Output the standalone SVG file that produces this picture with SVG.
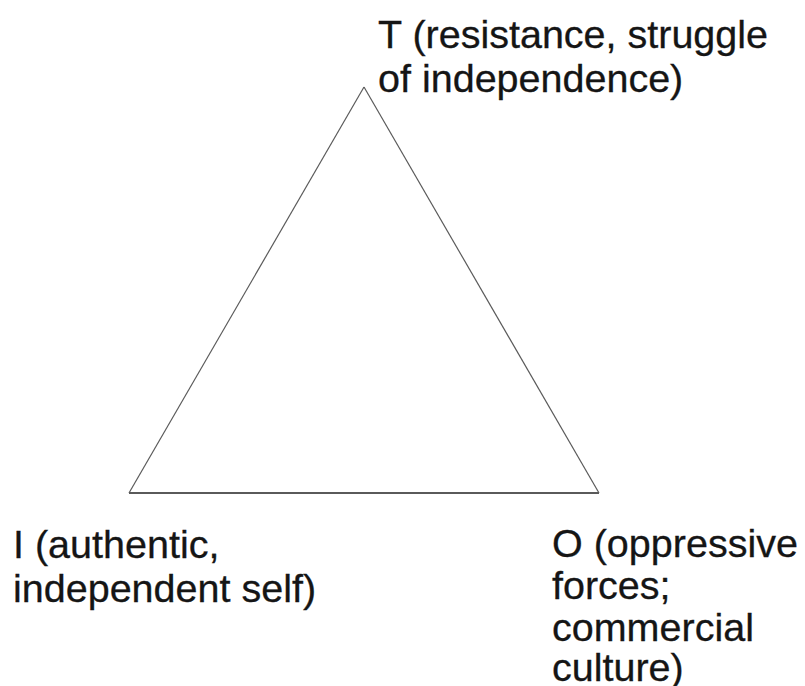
<svg xmlns="http://www.w3.org/2000/svg" width="805" height="686" viewBox="0 0 805 686">
<style>
.lbl{font-family:"Liberation Sans",Arial,sans-serif;font-size:39.5px;fill:#151515;stroke:#151515;stroke-width:0.3}
.edge{stroke:#5a5a5a;stroke-width:1.2;fill:none}
</style>
<rect width="805" height="686" fill="#fff"/>
<g id="connectors">
<line class="edge" x1="364" y1="87" x2="129" y2="493"/>
<line class="edge" x1="364" y1="87" x2="599" y2="493"/>
<line class="edge" x1="129" y1="493" x2="599" y2="493" style="stroke-width:1.8"/>
</g>
<g id="node-T">
<text class="lbl" x="378" y="48">T (resistance, struggle</text>
<text class="lbl" x="378" y="92">of independence)</text>
</g>
<g id="node-I">
<text class="lbl" x="13" y="558">I (authentic,</text>
<text class="lbl" x="13" y="602">independent self)</text>
</g>
<g id="node-O">
<text class="lbl" x="552" y="557">O (oppressive</text>
<text class="lbl" x="552" y="599">forces;</text>
<text class="lbl" x="552" y="641">commercial</text>
<text class="lbl" x="552" y="681">culture)</text>
</g>
</svg>
